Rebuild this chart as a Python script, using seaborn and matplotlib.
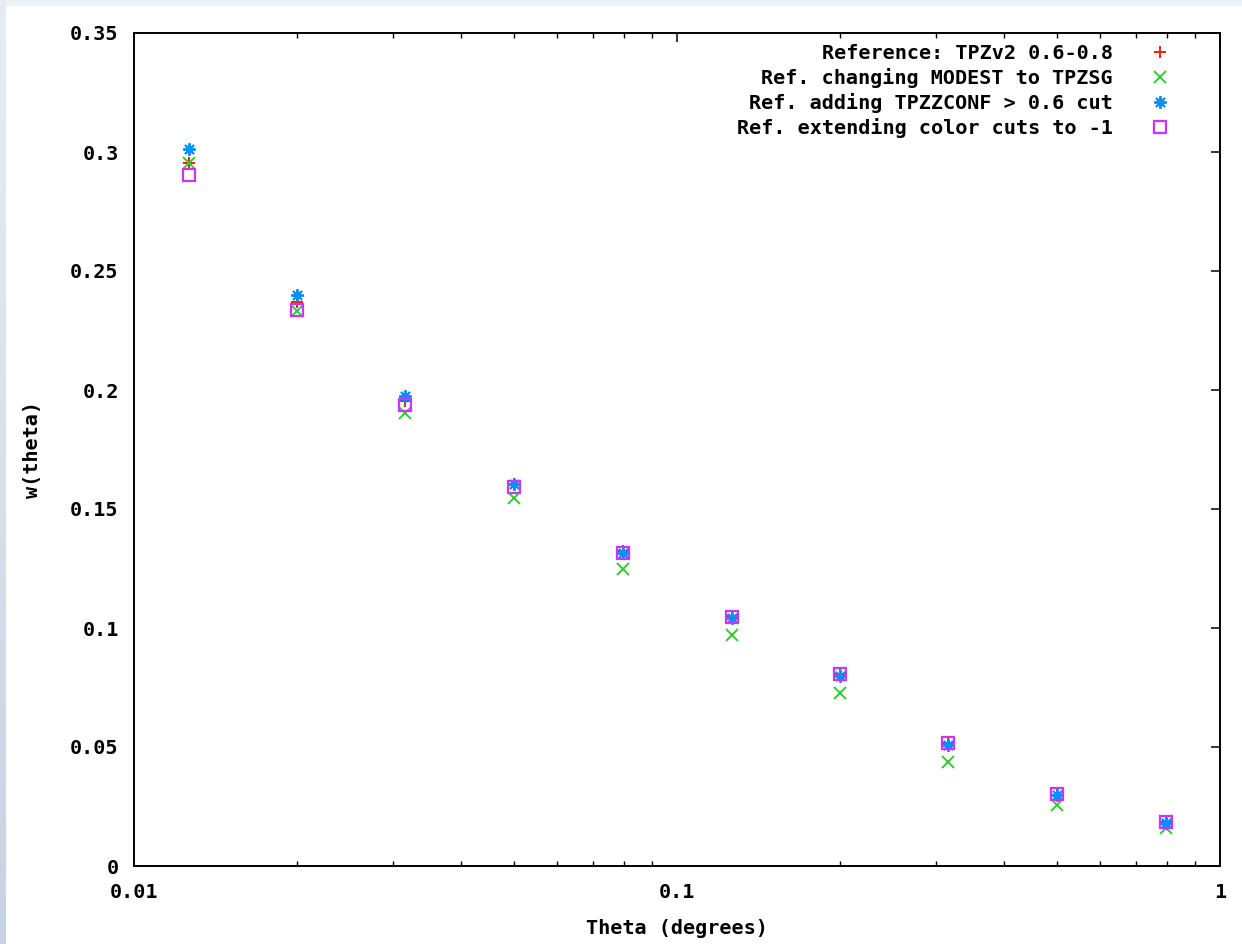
import numpy as np
import pandas as pd
import matplotlib
matplotlib.use("Agg")
import matplotlib.pyplot as plt
from matplotlib.patches import Rectangle
import matplotlib.ticker as mticker
import seaborn as sns

# ---------------- data ----------------
theta = [0.0126, 0.0200, 0.0316, 0.0501, 0.0794, 0.126, 0.200, 0.316, 0.501, 0.794]
w_reference = [0.2955, 0.2370, 0.1955, 0.1605, 0.1325, 0.1050, 0.0805, 0.0515, 0.0300, 0.0185]
w_tpzsg = [0.2952, 0.2330, 0.1903, 0.1548, 0.1247, 0.0972, 0.0727, 0.0437, 0.0258, 0.0160]
w_tpzconf = [0.3012, 0.2398, 0.1975, 0.1606, 0.1314, 0.1043, 0.0800, 0.0508, 0.0298, 0.0182]
w_colorcuts = [0.2903, 0.2335, 0.1937, 0.1594, 0.1315, 0.1047, 0.0805, 0.0518, 0.0302, 0.0186]

labels = ["Reference: TPZv2 0.6-0.8",
          "Ref. changing MODEST to TPZSG",
          "Ref. adding TPZZCONF > 0.6 cut",
          "Ref. extending color cuts to -1"]
series = [w_reference, w_tpzsg, w_tpzconf, w_colorcuts]
colors = ["#ff1a00", "#2ecc2e", "#0090ff", "#cc33ff"]
markers = ["+", "x", (8, 2, 0), "s"]
msizes = [8.5, 8.5, 9.0, 9.0]

x_ticks = [0.01, 0.1, 1]
x_ticklabels = ["0.01", "0.1", "1"]
y_ticks = [0, 0.05, 0.1, 0.15, 0.2, 0.25, 0.3, 0.35]
y_ticklabels = ["0", "0.05", "0.1", "0.15", "0.2", "0.25", "0.3", "0.35"]

# ---------------- style ----------------
sns.set_theme(style="white")
plt.rcParams["font.family"] = ["DejaVu Sans Mono", "DejaVu Sans"]
plt.rcParams["font.weight"] = "bold"
FS = 14.5

W, H = 1242, 944
fig = plt.figure(figsize=(W / 100, H / 100), dpi=100)
fig.patch.set_facecolor("white")

# light frame strips (screenshot border)
top_strip = Rectangle((0, 1 - 5 / H), 1, 5 / H, transform=fig.transFigure,
                      color="#eef1f4", zorder=-5)
fig.add_artist(top_strip)
grad = np.linspace(0, 1, H)[:, None, None]
c_top = np.array([0.91, 0.93, 0.95])
c_bot = np.array([0.78, 0.83, 0.89])
strip = (c_top * (1 - grad) + c_bot * grad) * np.ones((H, 6, 3))
fig.figimage(strip, xo=0, yo=0, origin="upper", zorder=-4)

ax = fig.add_axes([134 / W, (H - 866) / H, (1220 - 134) / W, (866 - 33) / H])
ax.set_facecolor("white")

for vals, lab, col, mk, ms in zip(series, labels, colors, markers, msizes):
    df = pd.DataFrame({"theta": theta, "w": vals})
    if mk == "s":
        sns.lineplot(data=df, x="theta", y="w", ax=ax, linestyle="", marker=mk,
                     markersize=ms, markerfacecolor="none", markeredgecolor=col,
                     markeredgewidth=1.6, color=col, label=lab)
    else:
        sns.lineplot(data=df, x="theta", y="w", ax=ax, linestyle="", marker=mk,
                     markersize=ms, markeredgecolor=col, markeredgewidth=1.4,
                     color=col, label=lab)

ax.set_xscale("log")
ax.set_xlim(0.01, 1)
ax.set_ylim(0, 0.35)
ax.set_xticks(x_ticks)
ax.set_xticklabels(x_ticklabels)
ax.xaxis.set_minor_locator(mticker.LogLocator(base=10, subs=np.arange(2, 10)))
ax.xaxis.set_minor_formatter(mticker.NullFormatter())
ax.set_yticks(y_ticks)
ax.set_yticklabels(y_ticklabels)

for s in ax.spines.values():
    s.set_visible(True)
    s.set_color("black")
    s.set_linewidth(1.4)

ax.tick_params(axis="both", which="major", direction="in", length=6.5, width=1.1,
               color="black", top=True, right=True, labelsize=FS, labelcolor="black")
ax.tick_params(axis="x", which="major", pad=12)
ax.tick_params(axis="y", which="major", pad=11)
ax.tick_params(axis="x", which="minor", direction="in", length=3.6, width=1.0,
               color="black", top=True, bottom=True)
for t in ax.get_xticklabels() + ax.get_yticklabels():
    t.set_fontweight("bold")

ax.set_xlabel("Theta (degrees)", fontsize=FS, fontweight="bold", color="black")
ax.set_ylabel("w(theta)", fontsize=FS, fontweight="bold", color="black")
ax.xaxis.set_label_coords(0.5, (866 - 919) / 833)
ax.yaxis.set_label_coords((42 - 134) / 1086, 0.5)

leg = ax.legend(loc="upper right", bbox_to_anchor=((1180 - 134) / 1086, (866 - 44) / 833),
                frameon=False, markerfirst=False, borderaxespad=0, borderpad=0,
                handlelength=2.0, handletextpad=1.35, labelspacing=0.25,
                prop={"family": "DejaVu Sans Mono", "weight": "bold", "size": FS})
vp = leg._legend_box._children[-1]._children[0]
vp.align = "right"
for t in leg.get_texts():
    t.set_color("black")

fig.savefig("out.png", dpi=100, facecolor=fig.get_facecolor())
